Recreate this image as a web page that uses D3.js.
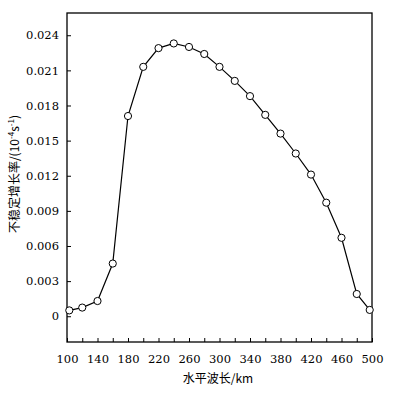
<!DOCTYPE html>
<html>
<head>
<meta charset="utf-8">
<script src="https://cdn.jsdelivr.net/npm/d3@7"></script>
<style>
  body { margin: 0; background: #fff; }
</style>
</head>
<body>
<div id="chart"></div>
<script>
// horizontal wavelength (km) and instability growth rate (10^-4 s^-1)
const wavelength = [103, 120, 140, 160, 180, 200, 220, 240, 260, 280, 300, 320, 340, 360, 380, 400, 420, 440, 460, 480, 497];
const growthRate = [0.0005, 0.00074, 0.0013, 0.0045, 0.0171, 0.0213, 0.0229, 0.0233, 0.0230, 0.0224, 0.0213, 0.0201, 0.0188, 0.0172, 0.0156, 0.0139, 0.0121, 0.0097, 0.0067, 0.0019, 0.00054];
const xTickLabels = [100, 140, 180, 220, 260, 300, 340, 380, 420, 460, 500];
const yTickLabels = [0, 0.003, 0.006, 0.009, 0.012, 0.015, 0.018, 0.021, 0.024];

const width = 398, height = 400;
const margin = { left: 67, right: 26, top: 13, bottom: 58 };

const svg = d3.select("#chart")
    .append("svg")
    .attr("width", width)
    .attr("height", height);

const x = d3.scaleLinear()
    .domain([100, 500])
    .range([margin.left, width - margin.right]);

const y = d3.scaleLinear()
    .domain([-0.0022, 0.0259])
    .range([height - margin.bottom, margin.top]);

const serif = "DejaVu Serif";

// frame
svg.append("rect")
    .attr("x", margin.left)
    .attr("y", margin.top)
    .attr("width", width - margin.left - margin.right)
    .attr("height", height - margin.top - margin.bottom)
    .attr("fill", "none")
    .attr("stroke", "#000")
    .attr("stroke-width", 1.3);

// bottom axis, ticks inward every 20 km
const xAxis = svg.append("g")
    .attr("transform", `translate(0,${height - margin.bottom})`)
    .call(d3.axisBottom(x)
        .tickValues(d3.range(100, 501, 20))
        .tickSizeInner(-4)
        .tickSizeOuter(0)
        .tickFormat(d => xTickLabels.includes(d) ? d : ""));
xAxis.attr("font-family", serif).attr("font-size", 11.5);
xAxis.select(".domain").remove();
xAxis.selectAll("text").attr("y", 13);

// left axis, ticks inward
const yAxis = svg.append("g")
    .attr("transform", `translate(${margin.left},0)`)
    .call(d3.axisLeft(y)
        .tickValues(yTickLabels)
        .tickSizeInner(-4)
        .tickSizeOuter(0)
        .tickFormat(d => d === 0 ? "0" : d3.format(".3f")(d)));
yAxis.attr("font-family", serif).attr("font-size", 11.5);
yAxis.select(".domain").remove();
yAxis.selectAll("text").attr("x", -8);

// line and markers
const points = wavelength.map((w, i) => ({ w: w, r: growthRate[i] }));

svg.append("path")
    .datum(points)
    .attr("fill", "none")
    .attr("stroke", "#000")
    .attr("stroke-width", 1.2)
    .attr("d", d3.line().x(d => x(d.w)).y(d => y(d.r)));

svg.selectAll(".pt")
    .data(points)
    .enter()
    .append("circle")
    .attr("class", "pt")
    .attr("cx", d => x(d.w))
    .attr("cy", d => y(d.r))
    .attr("r", 3.6)
    .attr("fill", "#fff")
    .attr("stroke", "#000")
    .attr("stroke-width", 1);

// axis titles
svg.append("text")
    .attr("x", 218)
    .attr("y", 383)
    .attr("text-anchor", "middle")
    .style("font-family", "'Noto Sans CJK SC', sans-serif")
    .style("font-size", "12px")
    .text("水平波长/km");

const yLabel = svg.append("text")
    .attr("transform", "translate(19,174) rotate(-90)")
    .attr("text-anchor", "middle")
    .style("font-family", "'Noto Sans CJK SC', sans-serif")
    .style("font-size", "12px");
yLabel.append("tspan").text("不稳定增长率/(10");
yLabel.append("tspan").attr("dy", -5).style("font-size", "8px").text("-4");
yLabel.append("tspan").attr("dy", 5).text("s");
yLabel.append("tspan").attr("dy", -5).style("font-size", "8px").text("-1");
yLabel.append("tspan").attr("dy", 5).text(")");
</script>
</body>
</html>
